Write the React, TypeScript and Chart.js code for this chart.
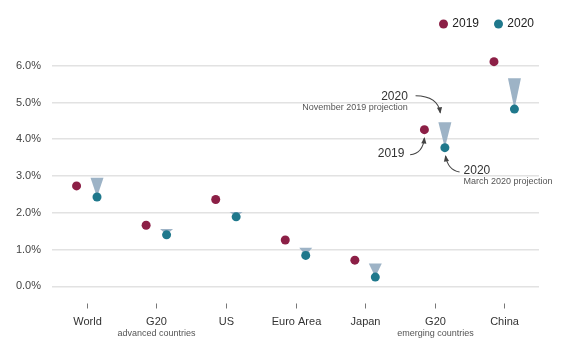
import React, { useEffect, useRef } from "react";
import { Chart, registerables } from "chart.js";
Chart.register(...registerables);

const categories = ["World", "G20", "US", "Euro Area", "Japan", "G20", "China"];
const subLabels = ["", "advanced countries", "", "", "", "emerging countries", ""];
const seriesLabels = ["2019", "2020"];
const growth2019 = [2.73, 1.66, 2.36, 1.26, 0.71, 4.26, 6.11];
const growth2020 = [2.43, 1.4, 1.89, 0.84, 0.25, 3.77, 4.82];
const nov2019Projection2020 = [2.95, 1.56, 2.02, 1.05, 0.62, 4.46, 5.66];
const yTicks = [0, 1, 2, 3, 4, 5, 6];
const annotatedIndex = 5;

const COLOR_2019 = "#8c1f46";
const COLOR_2020 = "#1f788c";
const TRI_COLOR = "#9db3c6";
const OFFSET = 0.147;
const FONT = "'Liberation Sans', Arial, sans-serif";

function arrow(ctx: CanvasRenderingContext2D, sx: number, sy: number, cx: number, cy: number, ex: number, ey: number) {
  ctx.beginPath();
  ctx.moveTo(sx, sy);
  ctx.quadraticCurveTo(cx, cy, ex, ey);
  ctx.stroke();
  const ang = Math.atan2(ey - cy, ex - cx);
  const len = 5.5, w = 2.6;
  ctx.beginPath();
  ctx.moveTo(ex + Math.cos(ang) * 1, ey + Math.sin(ang) * 1);
  ctx.lineTo(ex - Math.cos(ang) * len - Math.sin(ang) * w, ey - Math.sin(ang) * len + Math.cos(ang) * w);
  ctx.lineTo(ex - Math.cos(ang) * len + Math.sin(ang) * w, ey - Math.sin(ang) * len - Math.cos(ang) * w);
  ctx.closePath();
  ctx.fill();
}

const customPlugin = {
  id: "customDraw",
  beforeDatasetsDraw(chart: any) {
    const { ctx, scales } = chart;
    const x = scales.x, y = scales.y;
    ctx.save();
    ctx.fillStyle = TRI_COLOR;
    nov2019Projection2020.forEach((top, i) => {
      const px = x.getPixelForValue(i + OFFSET);
      const pt = y.getPixelForValue(top);
      const pb = y.getPixelForValue(growth2020[i]);
      ctx.beginPath();
      ctx.moveTo(px - 6.5, pt);
      ctx.lineTo(px + 6.5, pt);
      ctx.lineTo(px, pb);
      ctx.closePath();
      ctx.fill();
    });
    ctx.restore();
  },
  afterDraw(chart: any) {
    const { ctx, scales, chartArea } = chart;
    const x = scales.x, y = scales.y;
    ctx.save();
    // x tick marks and labels
    ctx.strokeStyle = "#777";
    ctx.lineWidth = 1;
    categories.forEach((c, i) => {
      const px = Math.round(x.getPixelForValue(i)) + 0.5;
      ctx.beginPath();
      ctx.moveTo(px, chartArea.bottom + 2.5);
      ctx.lineTo(px, chartArea.bottom + 7.5);
      ctx.stroke();
      ctx.textAlign = "center";
      ctx.textBaseline = "middle";
      ctx.fillStyle = "#333";
      ctx.font = `11px ${FONT}`;
      ctx.fillText(c, px, chartArea.bottom + 20.5);
      if (subLabels[i]) {
        ctx.fillStyle = "#555";
        ctx.font = `9px ${FONT}`;
        ctx.fillText(subLabels[i], px, chartArea.bottom + 32.5);
      }
    });
    // legend
    const ds = chart.data.datasets.slice(0, 2);
    ctx.font = `12px ${FONT}`;
    ctx.textBaseline = "middle";
    ctx.textAlign = "left";
    const ly = 16;
    let right = chartArea.right - 5;
    const items: any[] = [];
    for (let k = ds.length - 1; k >= 0; k--) {
      const tw = ctx.measureText(ds[k].label).width;
      const tx = right - tw;
      const dx = tx - 8.8;
      items.push({ tx, dx, label: ds[k].label, color: ds[k].backgroundColor });
      right = dx - 4.5 - 15;
    }
    items.forEach((it) => {
      ctx.fillStyle = it.color;
      ctx.beginPath();
      ctx.arc(it.dx, ly, 4.5, 0, Math.PI * 2);
      ctx.fill();
      ctx.fillStyle = "#222";
      ctx.fillText(it.label, it.tx, ly);
    });
    // annotations
    const i = annotatedIndex;
    const p19x = x.getPixelForValue(i - OFFSET), p19y = y.getPixelForValue(growth2019[i]);
    const p20x = x.getPixelForValue(i + OFFSET), p20y = y.getPixelForValue(growth2020[i]);
    const ptopy = y.getPixelForValue(nov2019Projection2020[i]);
    ctx.fillStyle = "#333";
    ctx.strokeStyle = "#444";
    ctx.lineWidth = 1.1;
    ctx.textAlign = "right";
    ctx.font = `12px ${FONT}`;
    ctx.fillText("2020", p20x - 37, ptopy - 25.6);
    ctx.fillStyle = "#555";
    ctx.font = `9px ${FONT}`;
    ctx.fillText("November 2019 projection", p20x - 37, ptopy - 14.6);
    ctx.fillStyle = "#444";
    arrow(ctx, p20x - 29.3, ptopy - 26.6, p20x - 7, ptopy - 26.3, p20x - 4.6, ptopy - 9.6);

    ctx.fillStyle = "#333";
    ctx.font = `12px ${FONT}`;
    ctx.fillText("2019", p19x - 20, p19y + 24);
    ctx.fillStyle = "#444";
    arrow(ctx, p19x - 14.3, p19y + 25, p19x - 1.7, p19y + 24, p19x, p19y + 8.3);

    ctx.textAlign = "left";
    ctx.fillStyle = "#333";
    ctx.font = `12px ${FONT}`;
    ctx.fillText("2020", p20x + 18.7, p20y + 23);
    ctx.fillStyle = "#555";
    ctx.font = `9px ${FONT}`;
    ctx.fillText("March 2020 projection", p20x + 18.7, p20y + 34);
    ctx.fillStyle = "#444";
    arrow(ctx, p20x + 14.7, p20y + 24.3, p20x + 3, p20y + 22.3, p20x + 0.7, p20y + 8.3);
    ctx.restore();
  },
};

export default function App() {
  const ref = useRef<HTMLCanvasElement>(null);
  useEffect(() => {
    if (!ref.current) return;
    const chart = new Chart(ref.current, {
      type: "scatter",
      data: {
        datasets: [
          {
            label: seriesLabels[0],
            data: growth2019.map((v, i) => ({ x: i - OFFSET, y: v })),
            backgroundColor: COLOR_2019,
            borderWidth: 0,
            pointRadius: 4.5,
          },
          {
            label: seriesLabels[1],
            data: growth2020.map((v, i) => ({ x: i + OFFSET, y: v })),
            backgroundColor: COLOR_2020,
            borderWidth: 0,
            pointRadius: 4.5,
          },
        ],
      },
      options: {
        animation: false,
        responsive: true,
        maintainAspectRatio: false,
        events: [],
        layout: { padding: { top: 43, right: 22, left: 0, bottom: 0 } },
        plugins: { legend: { display: false }, tooltip: { enabled: false } },
        scales: {
          x: {
            type: "linear",
            min: -0.5,
            max: 6.5,
            ticks: { display: false },
            grid: { display: false },
            border: { display: false },
            afterFit: (s: any) => { s.height = 45; },
          },
          y: {
            min: -0.4,
            max: 6.4,
            afterBuildTicks: (s: any) => { s.ticks = yTicks.map((v) => ({ value: v })); },
            afterFit: (s: any) => { s.width = 44; },
            ticks: {
              padding: 11,
              color: "#444",
              font: { family: FONT, size: 11 },
              callback: (v: any) => Number(v).toFixed(1) + "%",
            },
            grid: { color: "#e2e2e2", lineWidth: 1.5, drawTicks: false },
            border: { display: false },
          },
        },
      },
      plugins: [customPlugin],
    });
    return () => chart.destroy();
  }, []);
  return (
    <div style={{ width: 553, height: 338, position: "relative" }}>
      <canvas ref={ref} />
    </div>
  );
}
